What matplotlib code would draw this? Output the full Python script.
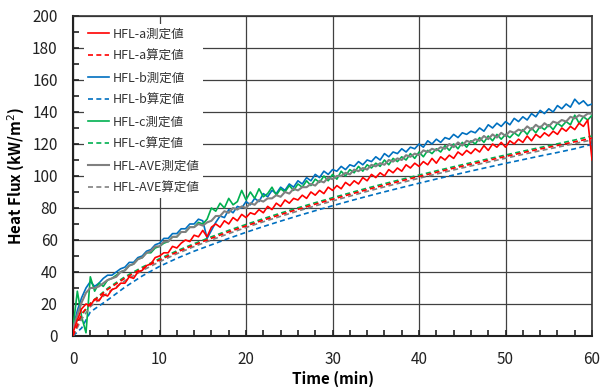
import numpy as np
import matplotlib
matplotlib.use("Agg")
import matplotlib.pyplot as plt
from matplotlib.ticker import MultipleLocator

plt.rcParams['font.family'] = ['Noto Sans CJK JP', 'DejaVu Sans']

# measured values, every 0.5 min from 0 to 60
t_meas = np.arange(0, 60.5, 0.5)

hfl_a_meas = [
    2, 10, 17, 20, 19, 23, 22, 26, 25, 29,
    30, 33, 33, 37, 36, 40, 41, 44, 45, 49,
    50, 52, 52, 56, 55, 58, 60, 59, 63, 62,
    66, 62, 68, 70, 68, 72, 70, 74, 72, 76,
    74, 77, 76, 79, 77, 81, 79, 83, 81, 85,
    83, 86, 85, 88, 86, 90, 88, 91, 89, 93,
    91, 94, 92, 96, 94, 97, 95, 99, 97, 101,
    99, 102, 100, 104, 102, 105, 103, 107, 105, 108,
    106, 109, 107, 111, 108, 112, 110, 113, 111, 115,
    113, 116, 114, 117, 115, 119, 116, 120, 118, 121,
    118, 122, 120, 123, 121, 125, 122, 126, 124, 127,
    125, 128, 126, 130, 128, 131, 129, 133, 131, 135,
    110]

hfl_b_meas = [
    4, 16, 24, 30, 34, 31, 33, 36, 38, 38,
    40, 42, 43, 46, 46, 49, 50, 53, 54, 57,
    58, 61, 61, 64, 64, 67, 67, 70, 70, 73,
    72, 61, 66, 71, 75, 74, 79, 77, 81, 80,
    84, 82, 86, 84, 89, 87, 91, 89, 93, 91,
    95, 93, 97, 95, 99, 97, 101, 99, 103, 101,
    104, 103, 106, 104, 107, 106, 109, 107, 110, 109,
    112, 110, 114, 112, 115, 114, 117, 115, 118, 117,
    120, 118, 122, 120, 123, 121, 124, 123, 126, 124,
    127, 126, 128, 127, 130, 128, 132, 130, 133, 131,
    134, 132, 136, 134, 137, 135, 139, 137, 141, 139,
    142, 140, 144, 142, 145, 143, 148, 145, 147, 144,
    145]

hfl_c_meas = [
    5, 28, 12, 2, 37, 28, 33, 31, 35, 36,
    38, 40, 41, 44, 45, 48, 49, 52, 52, 55,
    56, 58, 59, 62, 62, 65, 65, 68, 68, 71,
    70, 73, 80, 78, 83, 80, 86, 82, 84, 91,
    85, 90, 86, 92, 87, 89, 93, 88, 92, 90,
    94, 91, 95, 93, 97, 94, 98, 96, 100, 97,
    101, 98, 103, 100, 104, 102, 106, 103, 107, 105,
    108, 106, 110, 107, 111, 109, 112, 110, 114, 111,
    115, 112, 116, 114, 117, 115, 119, 116, 120, 117,
    121, 118, 122, 120, 124, 121, 125, 122, 126, 123,
    126, 124, 127, 125, 129, 126, 130, 127, 131, 129,
    132, 129, 133, 131, 134, 132, 138, 133, 137, 135,
    138]

hfl_ave_meas = [
    5, 13, 21, 27, 30, 30, 31, 33, 35, 36,
    37, 40, 41, 44, 45, 48, 49, 52, 53, 56,
    56, 59, 59, 62, 62, 65, 65, 68, 68, 70,
    69, 71, 72, 75, 75, 78, 77, 80, 79, 81,
    80, 83, 82, 85, 84, 86, 86, 88, 87, 90,
    89, 92, 91, 93, 93, 95, 94, 97, 96, 99,
    98, 100, 100, 102, 101, 104, 103, 105, 104, 107,
    106, 108, 107, 110, 109, 111, 110, 113, 112, 114,
    113, 116, 115, 117, 116, 118, 117, 120, 118, 121,
    119, 122, 121, 123, 122, 125, 123, 126, 124, 127,
    125, 128, 127, 129, 128, 131, 129, 132, 130, 133,
    131, 134, 133, 135, 134, 137, 136, 138, 137, 139,
    139]

# calculated values
t_calc = [0, 1, 2, 4, 6, 8, 10, 12, 14, 16, 18, 20, 22, 24, 26, 28, 30,
          32, 34, 36, 38, 40, 42, 44, 46, 48, 50, 52, 54, 56, 58, 60]
hfl_a_calc = [0, 13.9, 20.2, 29.1, 36.1, 42.2, 47.5, 52.4, 56.9, 61.1, 65.1,
              68.8, 72.4, 75.9, 79.2, 82.4, 85.5, 88.5, 91.5, 94.3, 97.0, 99.7,
              102.3, 104.9, 107.4, 109.8, 112.2, 114.6, 116.9, 119.1, 121.4, 123.6]
hfl_b_calc = [0, 5, 15, 22.5, 30.5, 37.5, 43.5, 48.5, 53, 57, 61,
              64.8, 68.4, 71.8, 75.1, 78.3, 81.4, 84.4, 87.3, 90.1, 92.8, 95.5,
              98.1, 100.6, 103.1, 105.5, 107.9, 110.2, 112.5, 114.7, 117, 119.8]
hfl_c_calc = [0, 13, 20.5, 29.8, 37, 43, 48.3, 53.2, 57.7, 62, 66,
              69.7, 73.3, 76.8, 80.1, 83.3, 86.4, 89.4, 92.4, 95.2, 97.9, 100.6,
              103.2, 105.8, 108.3, 110.7, 113.1, 115.5, 117.8, 120.1, 122.5, 125]
hfl_ave_calc = [0, 10.5, 18.3, 27, 34.5, 40.9, 46.4, 51.4, 55.9, 60, 64,
                67.8, 71.4, 74.8, 78.1, 81.3, 84.4, 87.4, 90.4, 93.2, 95.9, 98.6,
                101.2, 103.8, 106.3, 108.7, 111.1, 113.5, 115.8, 118, 120.3, 122.6]

red = '#FF0000'
blue = '#0070C0'
green = '#00B050'
gray = '#808080'

fig = plt.figure(figsize=(6.11, 3.90), dpi=100)
ax = fig.add_axes([0.1195, 0.1385, 0.8495, 0.8205])

dash = (0, (3, 2))
ax.plot(t_meas, hfl_a_meas, color=red, lw=1.2, label='HFL-a測定値', zorder=5)
ax.plot(t_calc, hfl_a_calc, color=red, lw=1.2, ls=dash, label='HFL-a算定値', zorder=4)
ax.plot(t_meas, hfl_b_meas, color=blue, lw=1.2, label='HFL-b測定値', zorder=3)
ax.plot(t_calc, hfl_b_calc, color=blue, lw=1.2, ls=dash, label='HFL-b算定値', zorder=3)
ax.plot(t_meas, hfl_c_meas, color=green, lw=1.2, label='HFL-c測定値', zorder=3)
ax.plot(t_calc, hfl_c_calc, color=green, lw=1.2, ls=dash, label='HFL-c算定値', zorder=3)
ax.plot(t_meas, hfl_ave_meas, color=gray, lw=1.5, label='HFL-AVE測定値', zorder=4)
ax.plot(t_calc, hfl_ave_calc, color=gray, lw=1.2, ls=dash, label='HFL-AVE算定値', zorder=3)

ax.set_xlim(0, 60)
ax.set_ylim(0, 200)
ax.xaxis.set_major_locator(MultipleLocator(10))
ax.xaxis.set_minor_locator(MultipleLocator(2))
ax.yaxis.set_major_locator(MultipleLocator(20))
ax.yaxis.set_minor_locator(MultipleLocator(10))
ax.grid(True, which='major', color='#404040', lw=0.9)
ax.set_axisbelow(True)

ax.tick_params(which='both', direction='in', top=False, right=False, colors='#222222')
ax.tick_params(which='major', length=4, width=1.2, labelsize=11, pad=11)
ax.tick_params(which='minor', length=4, width=1.2)
for s in ['left', 'bottom']:
    ax.spines[s].set_linewidth(1.5)
    ax.spines[s].set_color('#222222')
for s in ['top', 'right']:
    ax.spines[s].set_linewidth(1.2)
    ax.spines[s].set_color('#333333')

ax.set_xlabel('Time (min)', fontsize=11, fontweight='bold', labelpad=2)
ax.set_ylabel('Heat Flux (kW/m$^2$)', fontsize=11, fontweight='bold', labelpad=4)

leg = ax.legend(loc='upper left', bbox_to_anchor=(0.01, 0.995), fontsize=9,
                frameon=True, framealpha=1, facecolor='white', edgecolor='none',
                handlelength=1.7, handletextpad=0.25, labelspacing=0.72,
                borderpad=0.3, fancybox=False)
for txt in leg.get_texts():
    txt.set_color('#333333')

fig.savefig('out.png', dpi=100)
